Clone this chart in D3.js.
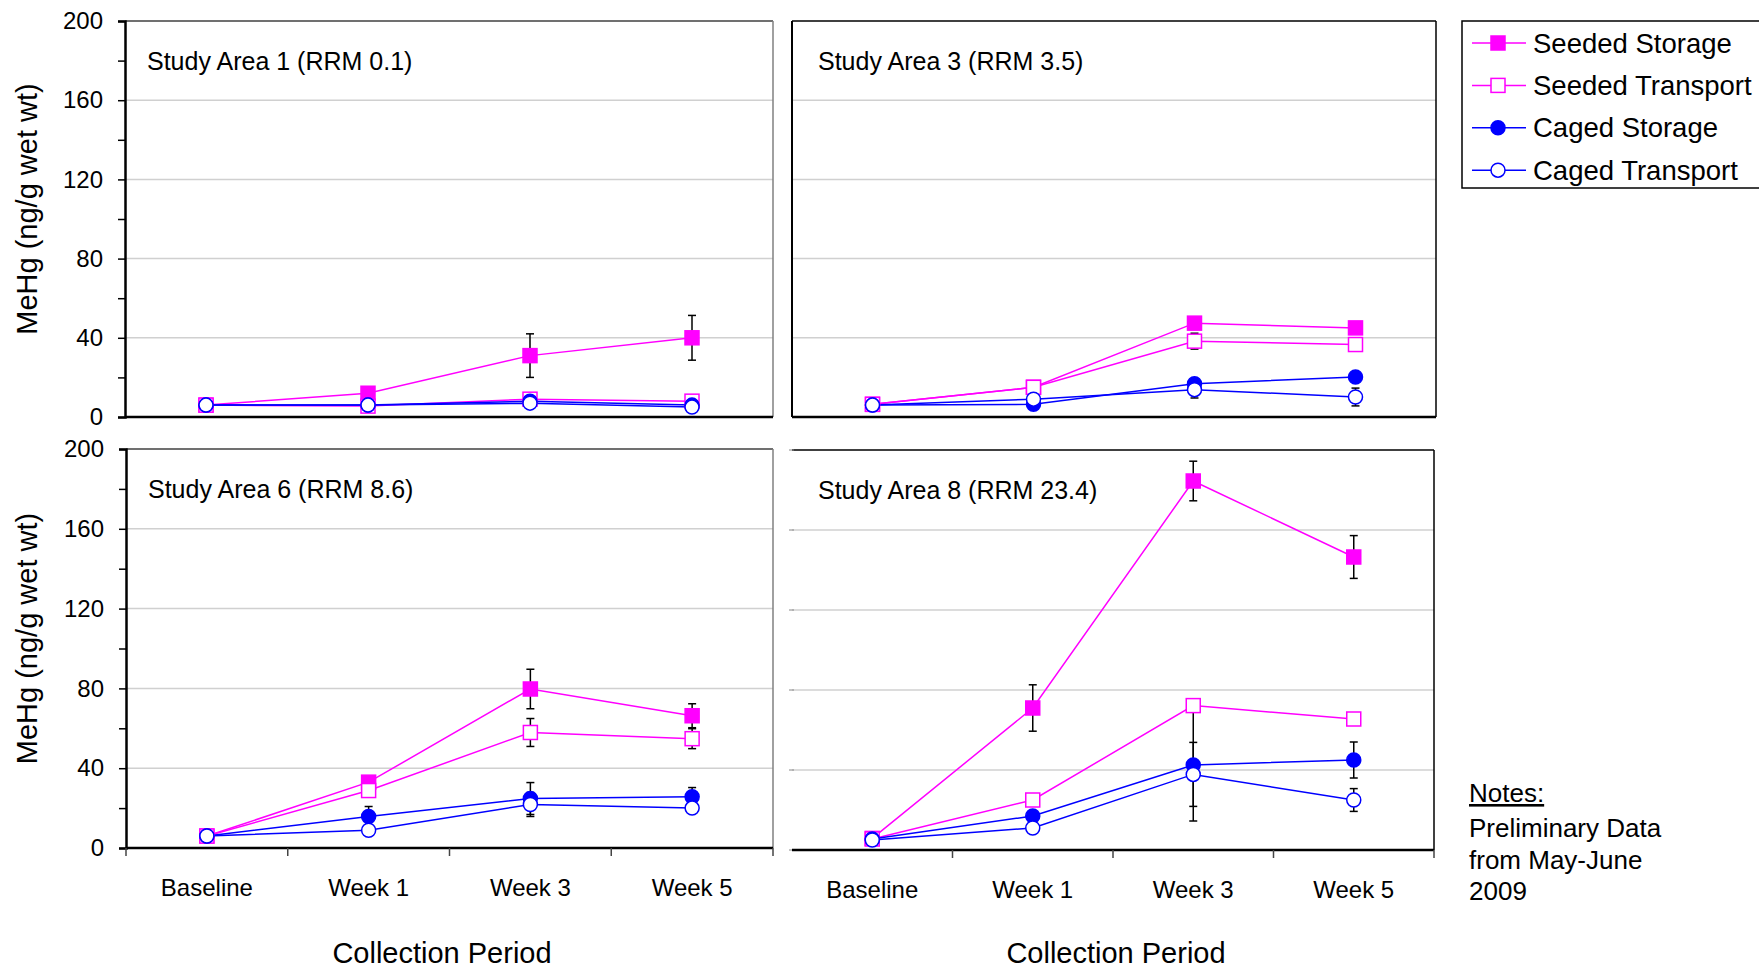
<!DOCTYPE html>
<html>
<head>
<meta charset="utf-8">
<script src="https://cdn.jsdelivr.net/npm/d3@7"></script>
<style>
  body { margin: 0; background: #fff; }
  svg { font-family: "Liberation Sans", Arial, sans-serif; }
</style>
</head>
<body>
<script>
// categories + series
const categories = ["Baseline", "Week 1", "Week 3", "Week 5"];
const seriesNames = ["Seeded Storage", "Seeded Transport", "Caged Storage", "Caged Transport"];
const panelTitles = ["Study Area 1 (RRM 0.1)", "Study Area 3 (RRM 3.5)", "Study Area 6 (RRM 8.6)", "Study Area 8 (RRM 23.4)"];
const yTicks = [0, 20, 40, 60, 80, 100, 120, 140, 160, 180, 200];
const noteLines = ["Preliminary Data", "from May-June", "2009"];

// values per series (same order as seriesNames)
const area1Values = [[6, 12, 31, 40], [6, 5.5, 9, 8], [6, 6, 8, 6], [6, 6, 7, 5]];
const area1Errors = [[0, 0, 11, 11.3], [0, 0, 0, 0], [0, 0, 0, 0], [0, 0, 0, 0]];

const area3Values = [[6.4, 15, 47.4, 45], [6.4, 15, 38.3, 36.6], [6, 6.4, 16.8, 20.2], [6, 9, 13.8, 10.1]];
const area3Errors = [[0, 0, 0, 0], [0, 0, 4, 0], [0, 0, 0, 0], [0, 0, 4.2, 4.5]];

const area6Values = [[6, 33, 79.7, 66.3], [6, 28.8, 57.9, 54.8], [6, 15.8, 24.8, 25.7], [6, 8.9, 21.8, 20]];
const area6Errors = [[0, 0, 9.9, 6], [0, 0, 7, 5], [0, 5, 8, 4.6], [0, 0, 6, 0]];

const area8Values = [[5.8, 71, 184.5, 146.5], [5.5, 25, 72.2, 65.5], [5.5, 17, 42.5, 45], [5, 11, 37.8, 25]];
const area8Errors = [[0, 11.6, 9.9, 10.7], [0, 0, 0, 0], [0, 0, 28, 9], [0, 0, 16, 5.7]];

const W = 1759, H = 968;
const magenta = "#FF00FF", blue = "#0000FF";
const styles = [
  { color: magenta, shape: "square", fill: magenta },
  { color: magenta, shape: "square", fill: "#fff" },
  { color: blue, shape: "circle", fill: blue },
  { color: blue, shape: "circle", fill: "#fff" }
];

const panels = [
  { title: panelTitles[0], vals: area1Values, errs: area1Errors, x0: 125, x1: 773, y0: 21, y1: 417, yAxis: true, xAxis: false, kind: "left", xTitle: 0 },
  { title: panelTitles[1], vals: area3Values, errs: area3Errors, x0: 792, x1: 1436, y0: 21, y1: 417, yAxis: false, xAxis: false, kind: "boxed", xTitle: 0 },
  { title: panelTitles[2], vals: area6Values, errs: area6Errors, x0: 126, x1: 773, y0: 449, y1: 848, yAxis: true, xAxis: true, kind: "left", xTitle: 442 },
  { title: panelTitles[3], vals: area8Values, errs: area8Errors, x0: 792, x1: 1434, y0: 450, y1: 850, yAxis: false, xAxis: true, kind: "open", xTitle: 1116 }
];

const svg = d3.select("body").append("svg")
  .attr("width", W)
  .attr("height", H);

const drawMarker = (g, st, cx, cy) => {
  if (st.shape === "square") {
    g.append("rect")
      .attr("x", cx - 7).attr("y", cy - 7)
      .attr("width", 14).attr("height", 14)
      .attr("fill", st.fill)
      .attr("stroke", st.color)
      .attr("stroke-width", 1.5);
  } else {
    g.append("circle")
      .attr("cx", cx).attr("cy", cy)
      .attr("r", 7)
      .attr("fill", st.fill)
      .attr("stroke", st.color)
      .attr("stroke-width", 1.5);
  }
};

panels.forEach(p => {
  const g = svg.append("g");

  const x = d3.scaleBand().domain(categories).range([p.x0, p.x1]);
  const y = d3.scaleLinear().domain([0, 200]).range([p.y1, p.y0]);
  const cx = c => x(c) + x.bandwidth() / 2;

  // gridlines
  g.selectAll(".grid")
    .data(yTicks.filter(t => t > 0 && t < 200 && t % 40 === 0))
    .enter().append("line")
    .attr("x1", p.x0).attr("x2", p.x1)
    .attr("y1", d => y(d)).attr("y2", d => y(d))
    .attr("stroke", "#d0d0d0")
    .attr("stroke-width", 1.5);

  // frame
  const topCol = p.kind === "left" ? "#404040" : "#000";
  const rightCol = p.kind === "left" ? "#808080" : "#000";
  g.append("line").attr("x1", p.x0).attr("x2", p.x1).attr("y1", p.y0).attr("y2", p.y0)
    .attr("stroke", topCol).attr("stroke-width", 1.5);
  g.append("line").attr("x1", p.x1).attr("x2", p.x1).attr("y1", p.y0).attr("y2", p.y1)
    .attr("stroke", rightCol).attr("stroke-width", 1.5);
  if (p.kind === "boxed") {
    g.append("line").attr("x1", p.x0).attr("x2", p.x0).attr("y1", p.y0).attr("y2", p.y1)
      .attr("stroke", "#000").attr("stroke-width", 2);
  }
  if (p.kind === "open") {
    // faint left ticks only, no axis line
    g.selectAll(".lt")
      .data(yTicks.filter(t => t % 40 === 0))
      .enter().append("line")
      .attr("x1", p.x0 - 3).attr("x2", p.x0 + 2)
      .attr("y1", d => y(d)).attr("y2", d => y(d))
      .attr("stroke", "#888").attr("stroke-width", 1);
  }

  // y axis
  if (p.yAxis) {
    const yAxis = d3.axisLeft(y)
      .tickValues(yTicks)
      .tickSize(7)
      .tickPadding(15)
      .tickFormat(d => d % 40 === 0 ? d : "");
    const ya = g.append("g")
      .attr("transform", `translate(${p.x0},0)`)
      .call(yAxis);
    ya.select(".domain").attr("stroke", "#000").attr("stroke-width", 2.5);
    ya.selectAll(".tick line").attr("stroke", "#000").attr("stroke-width", 1.5);
    ya.selectAll("text")
      .attr("font-size", 24)
      .attr("font-family", "Liberation Sans, Arial, sans-serif")
      .attr("fill", "#000");

    g.append("text")
      .attr("transform", `translate(27, ${(p.y0 + p.y1) / 2 - 10}) rotate(-90)`)
      .attr("text-anchor", "middle")
      .attr("dominant-baseline", "central")
      .attr("font-size", 29)
      .text("MeHg (ng/g wet wt)");
  }

  // bottom axis line
  g.append("line").attr("x1", p.x0).attr("x2", p.x1).attr("y1", p.y1).attr("y2", p.y1)
    .attr("stroke", "#000").attr("stroke-width", 2.5);

  if (p.xAxis) {
    // boundary ticks
    const bounds = categories.map(c => x(c)).concat([p.x1]).filter(v => p.kind !== "open" || v > p.x0 + 1);
    g.selectAll(".xt")
      .data(bounds)
      .enter().append("line")
      .attr("x1", d => d).attr("x2", d => d)
      .attr("y1", p.y1).attr("y2", p.y1 + 8)
      .attr("stroke", "#444").attr("stroke-width", 1.5);

    g.selectAll(".xl")
      .data(categories)
      .enter().append("text")
      .attr("x", d => cx(d))
      .attr("y", p.y1 + 39)
      .attr("text-anchor", "middle")
      .attr("dominant-baseline", "central")
      .attr("font-size", 24)
      .text(d => d);

    g.append("text")
      .attr("x", p.xTitle)
      .attr("y", 953)
      .attr("text-anchor", "middle")
      .attr("dominant-baseline", "central")
      .attr("font-size", 29)
      .text("Collection Period");
  }

  // panel title
  g.append("text")
    .attr("x", p.x0 + (p.kind === "left" ? 22 : 26))
    .attr("y", p.y0 + 40)
    .attr("dominant-baseline", "central")
    .attr("font-size", 25)
    .text(p.title);

  // lines
  const line = d3.line()
    .x((d, i) => cx(categories[i]))
    .y(d => y(d));
  p.vals.forEach((vals, si) => {
    g.append("path")
      .datum(vals)
      .attr("d", line)
      .attr("fill", "none")
      .attr("stroke", styles[si].color)
      .attr("stroke-width", 1.5);
  });

  // error bars
  p.vals.forEach((vals, si) => {
    vals.forEach((v, i) => {
      const e = p.errs[si][i];
      if (!e) return;
      const xc = cx(categories[i]);
      const eg = g.append("g").attr("stroke", "#000").attr("stroke-width", 1.5);
      eg.append("line").attr("x1", xc).attr("x2", xc).attr("y1", y(v - e)).attr("y2", y(v + e));
      eg.append("line").attr("x1", xc - 4).attr("x2", xc + 4).attr("y1", y(v - e)).attr("y2", y(v - e));
      eg.append("line").attr("x1", xc - 4).attr("x2", xc + 4).attr("y1", y(v + e)).attr("y2", y(v + e));
    });
  });

  // markers
  p.vals.forEach((vals, si) => {
    vals.forEach((v, i) => drawMarker(g, styles[si], cx(categories[i]), y(v)));
  });
});

// legend
const leg = svg.append("g");
leg.append("rect")
  .attr("x", 1462).attr("y", 21)
  .attr("width", 320).attr("height", 167)
  .attr("fill", "#fff")
  .attr("stroke", "#000")
  .attr("stroke-width", 1.5);
seriesNames.forEach((name, i) => {
  const ly = 43 + i * 42.4;
  leg.append("line")
    .attr("x1", 1472).attr("x2", 1526)
    .attr("y1", ly).attr("y2", ly)
    .attr("stroke", styles[i].color)
    .attr("stroke-width", 1.5);
  drawMarker(leg, styles[i], 1498, ly);
  leg.append("text")
    .attr("x", 1533).attr("y", ly)
    .attr("dominant-baseline", "central")
    .attr("font-size", 27.5)
    .text(name);
});

// notes
const notes = svg.append("g").attr("font-size", 26);
notes.append("text")
  .attr("x", 1469).attr("y", 802)
  .style("text-decoration", "underline")
  .text("Notes:");
noteLines.forEach((t, i) => {
  notes.append("text")
    .attr("x", 1469)
    .attr("y", 837 + i * 31.5)
    .text(t);
});
</script>
</body>
</html>
